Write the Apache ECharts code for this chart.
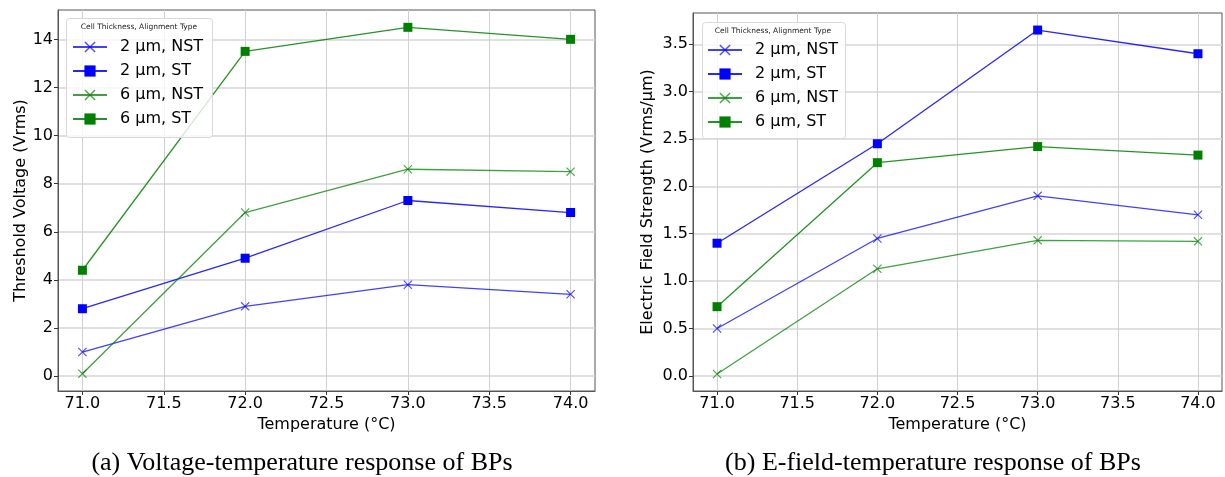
<!DOCTYPE html>
<html>
<head>
<meta charset="utf-8">
<script src="https://cdn.jsdelivr.net/npm/echarts@6/dist/echarts.min.js"></script>
<style>
html,body{margin:0;padding:0;background:#fff;}
#main{width:1225px;height:477px;}
</style>
</head>
<body>
<div id="main"></div>
<script>
// ---- data ----
const temperatures = [71.0, 72.0, 73.0, 74.0];
const seriesNames = ['2 µm, NST', '2 µm, ST', '6 µm, NST', '6 µm, ST'];

const voltage2NST = [1.0, 2.9, 3.8, 3.4];
const voltage2ST  = [2.8, 4.9, 7.3, 6.8];
const voltage6NST = [0.1, 6.8, 8.6, 8.5];
const voltage6ST  = [4.4, 13.5, 14.5, 14.0];

const field2NST = [0.5, 1.45, 1.9, 1.7];
const field2ST  = [1.4, 2.45, 3.65, 3.4];
const field6NST = [0.02, 1.13, 1.43, 1.42];
const field6ST  = [0.73, 2.25, 2.42, 2.33];

const xTicks = [71.0, 71.5, 72.0, 72.5, 73.0, 73.5, 74.0];
const voltageTicks = [0, 2, 4, 6, 8, 10, 12, 14];
const fieldTicks = [0, 0.5, 1.0, 1.5, 2.0, 2.5, 3.0, 3.5];

const legendTitle = 'Cell Thickness, Alignment Type';
const captionA = '(a) Voltage-temperature response of BPs';
const captionB = '(b) E-field-temperature response of BPs';

// ---- styling ----
const BLUE = '#0000ff', GREEN = '#008000';
const FONT = 'DejaVu Sans';
const X_PATH = 'path://M0,0.9 L0.9,0 L5,4.1 L9.1,0 L10,0.9 L5.9,5 L10,9.1 L9.1,10 L5,5.9 L0.9,10 L0,9.1 L4.1,5 Z';

function pairs(vals){ return temperatures.map((t,i)=>[t, vals[i]]); }

function mkSeries(name, vals, color, isSquare, axisIdx){
  return {
    type:'line', name:name, xAxisIndex:axisIdx, yAxisIndex:axisIdx,
    data: pairs(vals),
    symbol: isSquare ? 'rect' : X_PATH,
    symbolSize: 9,
    showSymbol:true,
    lineStyle:{color:color, width:1.3, opacity: isSquare ? 0.85 : 0.75},
    itemStyle:{color:color, opacity: isSquare ? 1 : 0.7},
    emphasis:{disabled:true},
    animation:false,
    z: 3
  };
}

function mkX(idx){
  return {
    type:'value', gridIndex:idx, min:70.85, max:74.15,
    name:'Temperature (°C)', nameLocation:'middle', nameGap:25,
    nameTextStyle:{fontFamily:FONT, fontSize:16, color:'#000'},
    axisLine:{show:true, onZero:false, lineStyle:{color:'#555', width:1}},
    axisTick:{show:true, length:4, customValues:xTicks, lineStyle:{color:'#333'}},
    axisLabel:{customValues:xTicks, fontFamily:FONT, fontSize:16, color:'#000', margin:5,
      formatter:v=>v.toFixed(1)},
    splitLine:{show:true, lineStyle:{color:'#d0d0d0', width:1}}
  };
}
function mkY(idx, min, max, ticks, name, gap, dec){
  return {
    type:'value', gridIndex:idx, min:min, max:max,
    name:name, nameLocation:'middle', nameGap:gap,
    nameTextStyle:{fontFamily:FONT, fontSize:16, color:'#000'},
    axisLine:{show:true, onZero:false, lineStyle:{color:'#555', width:1}},
    axisTick:{show:true, length:4, customValues:ticks, lineStyle:{color:'#333'}},
    axisLabel:{customValues:ticks, fontFamily:FONT, fontSize:16, color:'#000', margin:5,
      formatter:v=>v.toFixed(dec)},
    splitLine:{show:true, lineStyle:{color:'#d6d6d6', width:1.5}}
  };
}

function mkLegend(left, top){
  return {
    orient:'vertical', left:left, top:top, padding:0, z:10,
    data: seriesNames, itemWidth:34, itemHeight:14, itemGap:6,
    textStyle:{fontFamily:FONT, fontSize:16, color:'#000', lineHeight:18, padding:[0,0,0,8]},
    selectedMode:false
  };
}

const chart = echarts.init(document.getElementById('main'), null, {renderer:'canvas'});
const option = {
  backgroundColor:'#fff',
  animation:false,
  grid:[
    {left:58, top:10, width:537, height:381, show:true, borderColor:'#555', borderWidth:1, backgroundColor:'transparent'},
    {left:693, top:13, width:529, height:378, show:true, borderColor:'#555', borderWidth:1, backgroundColor:'transparent'}
  ],
  xAxis:[mkX(0), mkX(1)],
  yAxis:[
    mkY(0, -0.62, 15.22, voltageTicks, 'Threshold Voltage (Vrms)', 28, 0),
    mkY(1, -0.16, 3.83, fieldTicks, 'Electric Field Strength (Vrms/µm)', 37, 1)
  ],
  legend:[mkLegend(72, 38), mkLegend(707, 41)],
  series:[
    mkSeries(seriesNames[0], voltage2NST, BLUE, false, 0),
    mkSeries(seriesNames[1], voltage2ST, BLUE, true, 0),
    mkSeries(seriesNames[2], voltage6NST, GREEN, false, 0),
    mkSeries(seriesNames[3], voltage6ST, GREEN, true, 0),
    mkSeries(seriesNames[0], field2NST, BLUE, false, 1),
    mkSeries(seriesNames[1], field2ST, BLUE, true, 1),
    mkSeries(seriesNames[2], field6NST, GREEN, false, 1),
    mkSeries(seriesNames[3], field6ST, GREEN, true, 1)
  ],
  graphic:[
    {type:'rect', left:66, top:18, z:5, shape:{width:146, height:119, r:3},
      style:{fill:'rgba(255,255,255,0.8)', stroke:'#d8d8d8', lineWidth:1}},
    {type:'text', z:6, style:{text:legendTitle, x:139, y:27, align:'center', verticalAlign:'middle', font:'7.5px "DejaVu Sans"', fill:'#222'}},
    {type:'rect', left:702, top:22, z:5, shape:{width:143, height:116, r:3},
      style:{fill:'rgba(255,255,255,0.8)', stroke:'#d8d8d8', lineWidth:1}},
    {type:'text', z:6, style:{text:legendTitle, x:773, y:31, align:'center', verticalAlign:'middle', font:'7.5px "DejaVu Sans"', fill:'#222'}},
    {type:'text', z:6, style:{text:captionA, x:302, y:463, align:'center', verticalAlign:'middle', font:'26px "Liberation Serif"', fill:'#000'}},
    {type:'text', z:6, style:{text:captionB, x:933, y:463, align:'center', verticalAlign:'middle', font:'26px "Liberation Serif"', fill:'#000'}}
  ]
};
chart.setOption(option);
</script>
</body>
</html>
